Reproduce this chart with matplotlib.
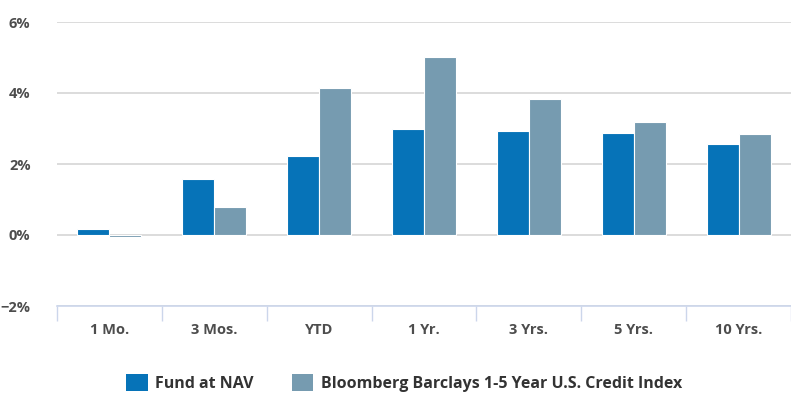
import matplotlib
matplotlib.use("Agg")
import matplotlib.pyplot as plt
import numpy as np
from matplotlib.patches import Patch

categories = ["1 Mo.", "3 Mos.", "YTD", "1 Yr.", "3 Yrs.", "5 Yrs.", "10 Yrs."]
fund_nav = [0.17, 1.58, 2.23, 3.00, 2.92, 2.88, 2.57]
credit_index = [-0.05, 0.79, 4.15, 5.02, 3.84, 3.18, 2.85]
series_names = ["Fund at NAV", "Bloomberg Barclays 1-5 Year U.S. Credit Index"]
y_ticks = [-2, 0, 2, 4, 6]

FUND_COLOR = "#0673b8"
INDEX_COLOR = "#769bb0"
TEXT_COLOR = "#4d4d4d"

plt.rcParams["font.family"] = ["Open Sans", "DejaVu Sans"]

fig = plt.figure(figsize=(7.91, 3.94), dpi=100)
ax = fig.add_axes([57 / 791, 88 / 394, 734 / 791, 284 / 394])

x = np.arange(len(categories))
w = 0.305
ax.bar(x - w / 2, fund_nav, w, color=FUND_COLOR, edgecolor="white", linewidth=0.8, zorder=3)
ax.bar(x + w / 2, credit_index, w, color=INDEX_COLOR, edgecolor="white", linewidth=0.8, zorder=3)

ax.set_xlim(-0.5, len(categories) - 0.5)
ax.set_ylim(-2, 6)

ax.set_yticks(y_ticks)
ax.set_yticklabels([f"{v}%".replace("-", "\u2212") for v in y_ticks])
ax.yaxis.grid(True, color="#d6d6d6", linewidth=1.2, zorder=0)
ax.tick_params(axis="y", length=0, pad=19, labelsize=10.5, labelcolor=TEXT_COLOR)
for lbl in ax.get_yticklabels():
    lbl.set_fontweight("bold")

# category labels centred, tick marks on category boundaries
ax.set_xticks(x)
ax.set_xticklabels(categories)
ax.set_xticks(np.arange(len(categories) + 1) - 0.5, minor=True)
ax.tick_params(axis="x", which="major", length=0, pad=12, labelsize=10.5, labelcolor=TEXT_COLOR)
ax.tick_params(axis="x", which="minor", length=11, width=1, color="#ccd6eb", direction="out")
for lbl in ax.get_xticklabels():
    lbl.set_fontweight("bold")

for side in ["top", "right", "left"]:
    ax.spines[side].set_visible(False)
ax.spines["bottom"].set_color("#ccd6eb")
ax.spines["bottom"].set_linewidth(1.2)

handles = [Patch(facecolor=FUND_COLOR), Patch(facecolor=INDEX_COLOR)]
leg = fig.legend(handles, series_names, loc="center", bbox_to_anchor=(404 / 791, 1 - 383 / 394),
                 ncol=2, frameon=False, handlelength=1.35, handleheight=1.25, handletextpad=0.45,
                 columnspacing=2.4, prop={"size": 11.5, "weight": "bold"})
for t in leg.get_texts():
    t.set_color("#333333")

fig.savefig("out.png", dpi=100, facecolor="white")
